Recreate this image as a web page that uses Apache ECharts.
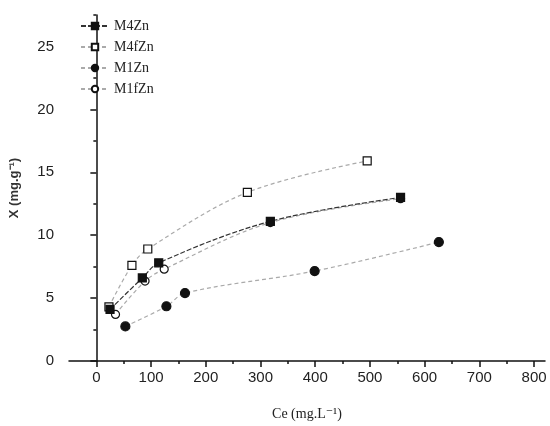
<!DOCTYPE html>
<html>
<head>
<meta charset="utf-8">
<script src="https://cdn.jsdelivr.net/npm/echarts@6/dist/echarts.min.js"></script>
</head>
<body style="margin:0">
<div id="main" style="width: 550px;height:426px;"></div>

<script type="text/javascript">
// values: [Ce, X]
var m4Zn  = [[25, 4.1], [84, 6.6], [114, 7.8], [318, 11.1], [556, 13.0]];
var m4fZn = [[23, 4.3], [65, 7.6], [94, 8.9], [276, 13.4], [495, 15.9]];
var m1Zn  = [[53, 2.75], [128, 4.35], [162, 5.4], [399, 7.15], [626, 9.45]];
var m1fZn = [[35, 3.7], [89, 6.35], [124, 7.3], [318, 11.0], [556, 12.9]];

var xTicks = [0, 100, 200, 300, 400, 500, 600, 700, 800];
var xMinorTicks = [50, 150, 250, 350, 450, 550, 650, 750];
var yTicks = [0, 5, 10, 15, 20, 25];
var yMinorTicks = [2.5, 7.5, 12.5, 17.5, 22.5, 27.5];

var serif = '"Liberation Serif", "DejaVu Serif", serif';
var sans = '"Liberation Sans", Arial, sans-serif';

function mkSeries(name, data, symbol, filled, size, lineColor, dash, z) {
    return {
        name: name,
        type: 'line',
        z: z,
        data: data,
        smooth: 0.35,
        symbol: symbol,
        symbolSize: size,
        itemStyle: {
            color: filled ? '#111' : '#fff',
            borderColor: '#111',
            borderWidth: 1.2
        },
        lineStyle: { color: lineColor, width: 1.2, type: dash }
    };
}

option = {
    animation: false,
    backgroundColor: '#fff',
    grid: { left: 68, right: 5, top: 15, bottom: 62 },
    legend: {
        orient: 'vertical',
        left: 75,
        top: 14,
        itemWidth: 28,
        itemHeight: 8,
        itemGap: 7,
        textStyle: { fontFamily: serif, fontSize: 14, color: '#222' },
        data: ['M4Zn', 'M4fZn', 'M1Zn', 'M1fZn']
    },
    xAxis: [{
        type: 'value',
        min: -50,
        max: 820,
        name: 'Ce (mg.L\u207B\u00B9)',
        nameLocation: 'middle',
        nameGap: 46,
        nameTextStyle: { fontFamily: serif, fontSize: 14, color: '#222' },
        axisLine: { lineStyle: { color: '#111', width: 1.5 } },
        axisTick: { customValues: xTicks, length: 6, lineStyle: { color: '#111', width: 1.5 } },
        axisLabel: { customValues: xTicks, margin: 9, fontFamily: sans, fontSize: 15, color: '#222' },
        splitLine: { show: false }
    }, {
        type: 'value',
        position: 'bottom',
        min: -50,
        max: 820,
        axisLine: { show: false },
        axisTick: { customValues: xMinorTicks, length: 3, lineStyle: { color: '#111', width: 1.5 } },
        axisLabel: { show: false },
        splitLine: { show: false }
    }],
    yAxis: [{
        type: 'value',
        min: 0,
        max: 27.5,
        name: 'X (mg.g\u207B\u00B9)',
        nameLocation: 'middle',
        nameGap: 48,
        nameTextStyle: { fontFamily: sans, fontSize: 13, fontWeight: 'bold', color: '#333' },
        axisLine: { show: true, lineStyle: { color: '#111', width: 1.5 } },
        axisTick: { show: true, customValues: yTicks, length: 6, lineStyle: { color: '#111', width: 1.5 } },
        axisLabel: { customValues: yTicks, margin: 15, fontFamily: sans, fontSize: 15, color: '#222' },
        splitLine: { show: false }
    }, {
        type: 'value',
        position: 'left',
        min: 0,
        max: 27.5,
        axisLine: { show: false },
        axisTick: { show: true, customValues: yMinorTicks, length: 3, lineStyle: { color: '#111', width: 1.5 } },
        axisLabel: { show: false },
        splitLine: { show: false }
    }],
    series: [
        mkSeries('M4Zn', m4Zn, 'rect', true, 8, '#333', [5, 2], 4),
        mkSeries('M4fZn', m4fZn, 'rect', false, 8, '#aaa', [4, 3], 3),
        mkSeries('M1Zn', m1Zn, 'circle', true, 9, '#aaa', [4, 3], 3),
        mkSeries('M1fZn', m1fZn, 'circle', false, 8, '#aaa', [4, 3], 2)
    ]
};

var myChart = echarts.init(document.getElementById('main'));
myChart.setOption(option);
</script>
</body>
</html>
